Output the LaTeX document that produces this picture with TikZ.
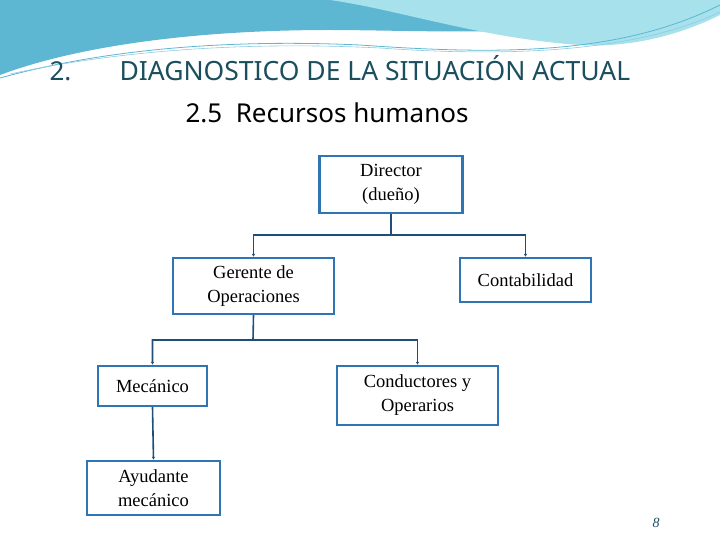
\documentclass[tikz,border=0pt]{standalone}
\usepackage{fontspec}
\setmainfont{Liberation Serif}
\newfontfamily\titlefont{Noto Sans}
\usetikzlibrary{arrows.meta}
\definecolor{boxblue}{HTML}{2E75B6}
\definecolor{linkblue}{HTML}{1F4E79}
\definecolor{titleteal}{HTML}{1B4F5E}
\definecolor{waveA}{HTML}{5DB6D2}
\definecolor{waveB}{HTML}{A6E1EC}
\tikzstyle{orgBox} = [draw=boxblue, line width=2.4pt, fill=white,
    rectangle, align=center, font=\fontsize{18.5}{24}\selectfont]
\tikzstyle{orgLink} = [draw=linkblue, line width=1.6pt, -{Latex[length=3pt,width=3.5pt]}]
\begin{document}
\begin{tikzpicture}[x=1pt,y=-1pt]

\useasboundingbox (0,0) rectangle (720,540);
% background waves
\fill[waveA] (0,0) -- (720,0) -- (720,8) .. controls (600,40) and (420,30) .. (330,30)
  .. controls (200,30) and (80,45) .. (0,75) -- cycle;
\fill[waveB] (330,0) -- (720,0) -- (720,15) .. controls (680,35) and (630,48) .. (580,45)
  .. controls (480,38) and (400,10) .. (330,0) -- cycle;
\draw[waveA, line width=0.8pt] (0,78) .. controls (120,45) and (250,40) .. (360,45)
  .. controls (500,55) and (620,55) .. (720,5);
\draw[waveA!70, line width=0.6pt] (10,74) .. controls (130,48) and (260,42) .. (380,48)
  .. controls (520,58) and (640,50) .. (720,12);

% titles
\node[text=titleteal, font=\titlefont\fontsize{26}{30}\selectfont, anchor=base west] (Num) at (46,81) {2.};
\node[text=titleteal, font=\titlefont\fontsize{26.5}{30}\selectfont, anchor=base west] (Title) at (116,81)
  {DIAGNOSTICO DE LA SITUACIÓN ACTUAL};
\node[text=black, font=\titlefont\fontsize{26}{30}\selectfont, anchor=base west] (Sub) at (182,123)
  {2.5\ \ Recursos humanos};

% org chart
\node[orgBox, minimum width=143, minimum height=57] (Director) at (391,184.5) {Director\\(dueño)};
\node[orgBox, minimum width=161, minimum height=56] (Gerente) at (253.5,286) {Gerente de\\Operaciones};
\node[orgBox, minimum width=131, minimum height=44] (Contabilidad) at (525.5,280) {Contabilidad};
\node[orgBox, minimum width=109, minimum height=40] (Mecanico) at (152.5,386) {Mecánico};
\node[orgBox, minimum width=161, minimum height=59] (Conductores) at (417.5,395.5) {Conductores y\\Operarios};
\node[orgBox, minimum width=133, minimum height=54] (Ayudante) at (153.5,488) {Ayudante\\mecánico};

\coordinate (DirJoin) at (391,235);
\coordinate (GerJoin) at (253,340);
\draw[orgLink] (Director.south) -- (DirJoin) -| (Gerente.north);
\draw[orgLink] (DirJoin) -| (Contabilidad.north);
\draw[orgLink] (Gerente.south) -- (GerJoin) -| (Mecanico.north);
\draw[orgLink] (GerJoin) -| (Conductores.north);
\draw[orgLink] (Mecanico.south) -- (Ayudante.north);

\node[text=titleteal, font=\itshape\fontsize{14}{16}\selectfont] (Page) at (656,523) {8};
\end{tikzpicture}
\end{document}
